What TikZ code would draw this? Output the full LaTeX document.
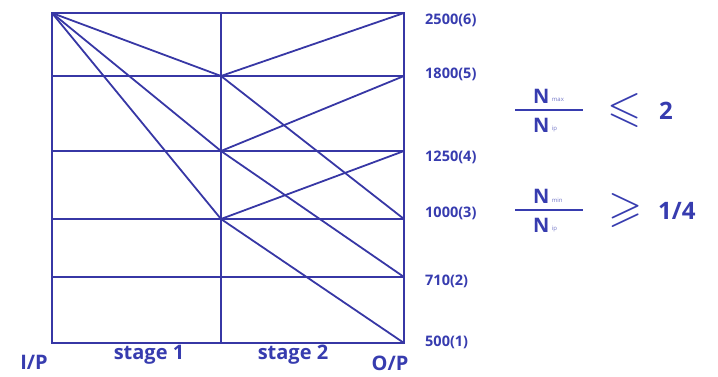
\documentclass[tikz,border=0pt]{standalone}
\usepackage{fontspec}
\usepackage{amssymb}
\setmainfont{Open Sans}
\definecolor{ln}{RGB}{55,55,165}
\definecolor{tx}{RGB}{55,60,175}
\begin{document}
\begin{tikzpicture}[x=1pt,y=-1pt,
  grid/.style={draw=ln,line width=1.8pt},
  lbl/.style={text=tx,font=\bfseries\fontsize{14.5}{16}\selectfont,anchor=west,inner sep=0pt},
  big/.style={text=tx,font=\bfseries\fontsize{20}{22}\selectfont,inner sep=0pt},
  frac/.style={text=tx,font=\bfseries\fontsize{20}{22}\selectfont,inner sep=0pt},
  rhs/.style={text=tx,font=\bfseries\fontsize{24}{26}\selectfont,inner sep=0pt},
  sub/.style={text=tx!70,anchor=west,inner sep=0pt,font=\fontsize{6}{6}\selectfont},
  rel/.style={text=tx,inner sep=0pt,font=\fontsize{44}{44}\selectfont}]
\useasboundingbox (0,0) rectangle (718,376);
% left column points
\coordinate (L6) at (52,13);
\coordinate (L5) at (52,76);
\coordinate (L4) at (52,151);
\coordinate (L3) at (52,219);
\coordinate (L2) at (52,277);
\coordinate (L1) at (52,343);
% middle
\coordinate (M6) at (221,13);
\coordinate (M5) at (221,76);
\coordinate (M4) at (221,151);
\coordinate (M3) at (221,219);
\coordinate (M1) at (221,343);
% right
\coordinate (R6) at (404,13);
\coordinate (R5) at (404,76);
\coordinate (R4) at (404,151);
\coordinate (R3) at (404,219);
\coordinate (R2) at (404,277);
\coordinate (R1) at (404,343);
% frame and grid
\draw[grid] (L6) rectangle (R1);
\draw[grid] (M6) -- (M1);
\foreach \i in {5,4,3,2} \draw[grid] (L\i) -- (R\i);
% rays
\draw[grid] (L6) -- (M5);
\draw[grid] (L6) -- (M4);
\draw[grid] (L6) -- (M3);
\draw[grid] (M5) -- (R6);
\draw[grid] (M5) -- (R3);
\draw[grid] (M4) -- (R5);
\draw[grid] (M4) -- (R2);
\draw[grid] (M3) -- (R4);
\draw[grid] (M3) -- (R1);
% speed labels
\node[lbl] (s6) at (425,20) {2500(6)};
\node[lbl] (s5) at (425,74) {1800(5)};
\node[lbl] (s4) at (425,157) {1250(4)};
\node[lbl] (s3) at (425,213) {1000(3)};
\node[lbl] (s2) at (425,281) {710(2)};
\node[lbl] (s1) at (425,342) {500(1)};
% bottom labels
\node[big] (ip) at (34,362) {I/P};
\node[big] (st1) at (149,355) {stage 1};
\node[big] (st2) at (293,355) {stage 2};
\node[big] (op) at (390,363) {O/P};
% fractions
\draw[draw=tx,line width=1.4pt] (515,110) -- (583,110);
\node[frac,anchor=west] (n1) at (533,96) {N};
\node[frac,anchor=west] (d1) at (533,125) {N};
\node[sub] at ([xshift=2pt,yshift=3pt]n1.south east) {max};
\node[sub] at ([xshift=2pt,yshift=3pt]d1.south east) {ip};
\node[rel] (le) at (625,110) {$\leqslant$};
\node[rhs] (two) at (666,111) {2};
\draw[draw=tx,line width=1.4pt] (515,210) -- (583,210);
\node[frac,anchor=west] (n2) at (533,196) {N};
\node[frac,anchor=west] (d2) at (533,225) {N};
\node[sub] at ([xshift=2pt,yshift=3pt]n2.south east) {min};
\node[sub] at ([xshift=2pt,yshift=3pt]d2.south east) {ip};
\node[rel] (ge) at (626,210) {$\geqslant$};
\node[rhs,anchor=west] (q) at (658,211) {1/4};
\end{tikzpicture}
\end{document}
